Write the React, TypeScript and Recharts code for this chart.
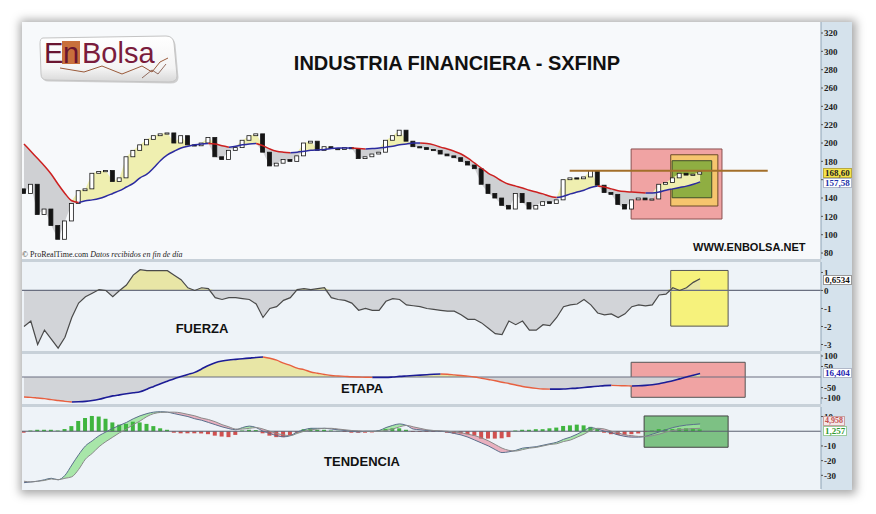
import React from 'react';
import {
    ComposedChart,
    Bar,
    Line,
    Area,
    XAxis,
    YAxis,
    ReferenceArea,
    ReferenceLine,
    Cell,
} from 'recharts';

// weekly closes (open = previous close)
const firstOpen = 150;
const closes = [
    145, 155, 122, 128, 110, 95, 115, 134, 148, 150,
    167, 169, 170, 158, 162, 185, 192, 198, 204, 208,
    210, 211, 200, 208, 198, 197, 200, 206, 185, 182,
    192, 195, 203, 208, 210, 190, 175, 178, 182, 180,
    186, 200, 202, 192, 196, 194, 193, 195, 194, 183,
    185, 188, 190, 203, 208, 214, 202, 196, 195, 193,
    192, 188, 186, 184, 180, 176, 172, 155, 145, 140,
    132, 128, 145, 135, 128, 132, 136, 134, 138, 160,
    162, 161, 163, 170, 154, 146, 144, 133, 128, 138,
    140, 138, 139, 155, 157, 162, 167, 165, 166, 168.6,
];
const movingAvg = [
    199, 191, 183, 175, 166, 155, 145, 137, 135, 137,
    138, 139.5, 142, 145, 148, 152, 156, 162, 166, 173,
    181, 187, 191, 194.5, 196.5, 198, 199, 199.5, 199, 197,
    195.5, 196.5, 198, 199, 199.5, 197, 193.5, 191, 190, 189.5,
    190, 191, 192, 192.5, 193, 194, 194.5, 194.5, 194.5, 194,
    193.5, 194, 194.5, 195.5, 196.5, 198, 199, 200, 200, 199.5,
    198, 195.5, 193.5, 191, 188, 183.5, 178, 172.5, 167, 163,
    158.5, 155, 153, 151, 148.5, 146.5, 144.5, 142, 140.5, 142,
    144.5, 146.5, 148.5, 151.5, 153, 152, 150, 148, 147, 146.5,
    146, 145.5, 145.5, 146.5, 148.5, 150, 151.5, 153, 155, 157.6,
];
const fuerza = [
    -2.0, -1.7, -3.0, -2.2, -2.7, -3.2, -2.6, -1.5, -0.7, -0.35,
    -0.15, 0.05, 0.0, -0.35, 0.0, 0.3, 0.85, 1.15, 1.1, 1.1,
    1.1, 1.1, 0.85, 0.6, 0.15, 0.0, 0.15, 0.1, -0.4, -0.5,
    -0.4, -0.4, -0.45, -0.5, -0.75, -1.5, -1.0, -0.9, -0.55, -0.4,
    0.05, 0.1, 0.05, 0.1, 0.15, -0.4, -0.5, -0.55, -0.7, -1.1,
    -1.0, -1.1, -1.1, -0.6, -0.45, -0.5, -0.8, -0.85, -0.9, -1.0,
    -1.05, -1.1, -1.15, -1.15, -1.35, -1.6, -1.6, -1.8, -2.1, -2.4,
    -2.45, -1.7, -1.9, -1.7, -2.2, -2.2, -1.9, -1.95, -1.5, -0.9,
    -0.8, -0.75, -0.5, -0.8, -1.25, -1.35, -1.3, -1.5, -1.3, -0.9,
    -0.8, -0.85, -0.8, -0.25, -0.2, 0.15, 0.0, 0.15, 0.45, 0.6534,
];
const etapa = [
    -95, -97, -100, -103, -108, -112, -116, -119, -118, -116,
    -112, -106, -98, -90, -85, -80, -75, -70, -58, -45,
    -32, -20, -8, 2, 12, 22, 38, 55, 68, 76,
    81, 84, 87, 90, 93, 95, 89, 80, 66, 55,
    42, 35, 24, 18, 12, 7, 5, 3, 1, 0,
    -1, -2, -2, -2, 0, 3, 5, 7, 9, 11,
    13, 14, 13, 10, 7, 4, 0, -6, -12, -18,
    -25, -31, -38, -45, -50, -54, -57, -58, -58, -57,
    -55, -53, -50, -47, -44, -41, -40, -41, -42, -43,
    -42, -40, -37, -32, -25, -18, -9, 0, 8, 16.4,
];
const macdLine = [
    -35, -34.5, -34, -33, -32, -33, -30, -23, -16, -10,
    -6.5, -3, -0.5, 2, 4, 6, 8.5, 10.5, 12, 13,
    13.3, 13, 12, 11, 10, 8.5, 7.5, 6, 4.5, 3,
    1.8, 1, 2.5, 3.5, 2.5, 0, -1.5, -3, -3.8, -3,
    -0.5, 1, 2, 2, 2, 1.5, 1, 0.5, 0, -0.5,
    0, 0, 0.5, 2.5, 4, 5, 4, 1.5, 1, 0.5,
    0.3, 0, -0.5, -1.5, -2.5, -4, -6, -8, -10, -12.5,
    -14.5, -14, -13, -11.5, -11, -10.5, -9.5, -8.5, -7.5, -5.5,
    -4, -2, 0.5, 2.5, 1.5, 0, -1, -2.5, -3.5, -4,
    -4, -3.5, -2, -0.5, 1, 2.5, 3.5, 4.2, 4.6, 4.958,
];
const signalLine = [
    -34, -34.5, -34, -33.5, -32.5, -33, -32, -31, -26, -19,
    -15, -10.5, -7, -4, -1, 1.5, 4.5, 7, 10, 12,
    12.8, 13, 13, 12.5, 11.5, 10.5, 9, 8, 6.5, 4.5,
    3, 1.5, 1.5, 2, 2.5, 1.5, 0, -1.5, -2.5, -3,
    -1.5, 0, 1, 1.5, 2, 2, 1.5, 1, 0.5, 0.3,
    0, 0, 0, 0.5, 1.5, 3, 4, 3, 2, 1,
    0.5, 0.3, 0, -0.5, -1, -2, -3, -4.5, -6.5, -9,
    -11.5, -13, -13.5, -12.5, -11.5, -11, -10, -9, -8.5, -7,
    -6, -4, -2, 0.5, 2, 1.5, 0, -1, -2.5, -3,
    -3.5, -3.5, -3, -2, -0.5, 0.5, 1.2, 1.5, 1.8, 2,
];
const histogram = [
    -1, 0.5, 1, 1, 1, 0.5, 1.5, 3.5, 7, 9,
    10.4, 10, 8.5, 6, 4.5, 5, 6.5, 6, 5, 3.5,
    2, 1, -1, -1.4, -1.4, -1.4, -1.5, -2, -3, -3.6,
    -4, -2.5, 0.5, 1, 0.8, -1.4, -3, -4, -4, -3,
    -1, 1.4, 2, 1, 1, 0.5, 0.3, -0.5, -1, -1,
    -1, -0.8, 0.5, 1.5, 2, 2, 1, -0.5, -0.5, -0.5,
    -0.5, -0.5, -1, -1.5, -1.5, -2, -3, -5, -5, -5,
    -4.8, -4, 0.5, 1, 1, 1.4, 1.4, 2, 2.5, 3.6,
    4, 4.5, 4, 3, 1.5, -1, -2, -2.5, -2.5, -2,
    -1.5, -0.5, 0.5, 1.5, 1.5, 1.5, 2, 2, 2, 1.257,
];

const priceTicks = [80, 100, 120, 140, 160, 180, 200, 220, 240, 260, 280, 300, 320];
const fuerzaTicks = [1, 0, -1, -2, -3];
const etapaTicks = [100, 50, -50, -100];
const tendenciaTicks = [10, -10, -20, -30];

const xDomain = [-0.29, 116.7];

const rising = (arr: number[], i: number) =>
    (i > 0 && arr[i] >= arr[i - 1]) || (i < arr.length - 1 && arr[i + 1] >= arr[i]);
const falling = (arr: number[], i: number) =>
    (i > 0 && arr[i] < arr[i - 1]) || (i < arr.length - 1 && arr[i + 1] < arr[i]);

const priceData = closes.map((close, i) => {
    const open = i === 0 ? firstOpen : closes[i - 1];
    const ma = movingAvg[i];
    return {
        i,
        open,
        close,
        body: [Math.min(open, close), Math.max(open, close)],
        above: close >= ma ? [ma, close] : [ma, ma],
        below: close < ma ? [close, ma] : [ma, ma],
        maUp: rising(movingAvg, i) ? ma : null,
        maDown: falling(movingAvg, i) ? ma : null,
    };
});

const fuerzaData = fuerza.map((v, i) => ({
    i,
    v,
    pos: [0, Math.max(v, 0)],
    neg: [Math.min(v, 0), 0],
}));

const etapaData = etapa.map((v, i) => ({
    i,
    pos: [0, Math.max(v, 0)],
    neg: [Math.min(v, 0), 0],
    up: rising(etapa, i) ? v : null,
    down: falling(etapa, i) ? v : null,
}));

const tendenciaData = macdLine.map((a, i) => {
    const b = signalLine[i];
    return {
        i,
        a,
        b,
        hist: histogram[i],
        green: a >= b ? [b, a] : [a, a],
        pink: a < b ? [a, b] : [b, b],
    };
});

const Candle = (props: any) => {
    const { x, y, width, height, payload } = props;
    if (x == null || y == null) return null;
    const top = Math.min(y, y + height);
    const h = Math.max(Math.abs(height), 1.2);
    const white = payload.close >= payload.open;
    return (
        <rect x={x} y={top} width={width} height={h} fill={white ? '#ffffff' : '#151515'} stroke="#151515" strokeWidth={0.8} />
    );
};

const W = 830;
const tickStyle = { fontSize: 9, fontFamily: 'Liberation Serif, serif', fontWeight: 700, fill: '#222' };

const yAxisProps = {
    orientation: 'right' as const,
    width: 31,
    tick: tickStyle,
    tickSize: 2,
    tickMargin: 1,
    interval: 0 as const,
    allowDataOverflow: true,
    axisLine: { stroke: '#8fa3b5' },
    tickLine: { stroke: '#555' },
};

const xAxis = <XAxis dataKey="i" type="number" domain={xDomain} allowDataOverflow hide />;

function Logo() {
    return (
        <div style={{ position: 'absolute', left: 38, top: 34, width: 142, height: 50 }}>
            <svg width={142} height={50}>
                <defs>
                    <linearGradient id="plate" x1="0" y1="0" x2="0" y2="1">
                        <stop offset="0" stopColor="#ffffff" />
                        <stop offset="0.7" stopColor="#f4f4f4" />
                        <stop offset="1" stopColor="#d8d8d8" />
                    </linearGradient>
                </defs>
                <path d="M5 4 L128 2 Q135 2 136 9 L139 42 Q139 48 131 48 L9 46 Q3 46 3 40 L2 10 Q2 4 5 4 Z" fill="#cfcfcf" transform="translate(1.5,1.5)" />
                <path d="M5 4 L128 2 Q135 2 136 9 L139 42 Q139 48 131 48 L9 46 Q3 46 3 40 L2 10 Q2 4 5 4 Z" fill="url(#plate)" stroke="#c4c4c4" />
                <rect x={24} y={7} width={18} height={23} fill="#c8703c" />
                <text x={6} y={29} fontFamily="Liberation Sans, Arial, sans-serif" fontSize={29} fill="#6a1530">E</text>
                <text x={25} y={29} fontFamily="Liberation Sans, Arial, sans-serif" fontSize={29} fill="#6a1530">n</text>
                <text x={44} y={29} fontFamily="Liberation Sans, Arial, sans-serif" fontSize={29} fill="#7a1c3c">Bolsa</text>
                <polyline points="22,34 46,38 64,32 84,40 104,32 114,38 122,28 130,24" fill="none" stroke="#9a5a3a" strokeWidth={1} />
                <polyline points="104,44 114,36 120,40 128,30" fill="none" stroke="#7a4a3a" strokeWidth={0.8} />
            </svg>
        </div>
    );
}

const boxLabel = (top: number, text: string, color: string, bg: string, border: string, fs = 9) => (
    <div
        style={{
            position: 'absolute',
            left: 823,
            top,
            height: 8,
            lineHeight: '8px',
            padding: '0 1px',
            fontFamily: 'Liberation Serif, serif',
            fontWeight: 700,
            fontSize: fs,
            color,
            background: bg,
            border: `1px solid ${border}`,
        }}
    >
        {text}
    </div>
);

const centered = (left: number, top: number, text: string, fs: number) => (
    <div
        style={{
            position: 'absolute',
            left,
            top,
            transform: 'translate(-50%, -50%)',
            fontFamily: 'Liberation Sans, Arial, sans-serif',
            fontWeight: 700,
            fontSize: fs,
            lineHeight: 1,
            color: '#111',
            whiteSpace: 'nowrap',
        }}
    >
        {text}
    </div>
);

export default function App() {
    return (
        <div style={{ position: 'absolute', left: 0, top: 0, width: 876, height: 514, background: '#ffffff', overflow: 'hidden' }}>
            {/* frame */}
            <div style={{ position: 'absolute', left: 22, top: 22, width: 830, height: 468, background: '#f7f9fb', boxShadow: '1px 1px 9px 3px rgba(0,0,0,0.35)' }} />
            {/* panel backgrounds */}
            <div style={{ position: 'absolute', left: 22, top: 262, width: 799, height: 89, background: '#eef3f8' }} />
            <div style={{ position: 'absolute', left: 22, top: 354, width: 799, height: 50, background: '#eef3f8' }} />
            <div style={{ position: 'absolute', left: 22, top: 407, width: 799, height: 83, background: '#eef3f8' }} />
            {[259, 351, 404].map(t => (
                <div key={t} style={{ position: 'absolute', left: 22, top: t, width: 799, height: 3, background: '#c8d1d9' }} />
            ))}
            <div style={{ position: 'absolute', left: 821, top: 22, width: 31, height: 468, background: '#d5e2ec' }} />

            {/* price panel */}
            <div style={{ position: 'absolute', left: 22, top: 22 }}>
                <ComposedChart width={W} height={237} data={priceData} margin={{ top: 0, right: 0, bottom: 0, left: 0 }}>
                    {xAxis}
                    <YAxis {...yAxisProps} domain={[73.5, 332]} ticks={priceTicks} />
                    <ReferenceArea x1={88.9} x2={102.2} y1={117.1} y2={193.5} fill="#f0a3a3" fillOpacity={1} stroke="#8a5050" />
                    <ReferenceArea x1={94.7} x2={101.6} y1={131.3} y2={187.2} fill="#f6c56e" fillOpacity={1} stroke="#6b4a2a" />
                    <ReferenceArea x1={94.9} x2={100.7} y1={140.3} y2={180.7} fill="#8fae42" fillOpacity={1} stroke="#3f4f2a" />
                    <Area dataKey="above" type="linear" stroke="none" fill="#efefb0" fillOpacity={1} isAnimationActive={false} />
                    <Area dataKey="below" type="linear" stroke="none" fill="#cfd0d3" fillOpacity={1} isAnimationActive={false} />
                    <ReferenceLine segment={[{ x: 79.9, y: 169.8 }, { x: 108.9, y: 169.8 }]} stroke="#a36f2a" strokeWidth={2} />
                    <Bar dataKey="body" barSize={4} shape={(p: any) => <Candle {...p} />} isAnimationActive={false} />
                    <Line dataKey="maUp" type="monotone" stroke="#2b2ba0" strokeWidth={1.5} dot={false} isAnimationActive={false} />
                    <Line dataKey="maDown" type="monotone" stroke="#cc2020" strokeWidth={1.5} dot={false} isAnimationActive={false} />
                </ComposedChart>
            </div>

            {/* fuerza panel */}
            <div style={{ position: 'absolute', left: 22, top: 262 }}>
                <ComposedChart width={W} height={89} data={fuerzaData} margin={{ top: 0, right: 0, bottom: 0, left: 0 }}>
                    {xAxis}
                    <YAxis {...yAxisProps} domain={[-3.36, 1.58]} ticks={fuerzaTicks} />
                    <ReferenceArea x1={94.7} x2={103.1} y1={-1.98} y2={1.11} fill="#f6f27c" fillOpacity={1} stroke="#555" />
                    <Area dataKey="pos" type="linear" stroke="none" fill="#e8e6a6" fillOpacity={1} isAnimationActive={false} />
                    <Area dataKey="neg" type="linear" stroke="none" fill="#d2d4d8" fillOpacity={1} isAnimationActive={false} />
                    <ReferenceLine y={0} stroke="#6a6f80" strokeWidth={1.2} />
                    <Line dataKey="v" type="linear" stroke="#4a4a4a" strokeWidth={1.2} dot={false} isAnimationActive={false} />
                </ComposedChart>
            </div>

            {/* etapa panel: svg starts 3px higher so the top tick is not cut */}
            <div style={{ position: 'absolute', left: 22, top: 351 }}>
                <ComposedChart width={W} height={53} data={etapaData} margin={{ top: 3, right: 0, bottom: 0, left: 0 }}>
                    {xAxis}
                    <YAxis {...yAxisProps} domain={[-128.6, 109.5]} ticks={etapaTicks} />
                    <ReferenceArea x1={88.9} x2={105.6} y1={-96.7} y2={70} fill="#f0a3a3" fillOpacity={1} stroke="#555" />
                    <Area dataKey="pos" type="linear" stroke="none" fill="#e8e6a6" fillOpacity={1} isAnimationActive={false} />
                    <Area dataKey="neg" type="linear" stroke="none" fill="#d2d4d8" fillOpacity={1} isAnimationActive={false} />
                    <ReferenceLine y={0} stroke="#6a6f80" strokeWidth={1.2} />
                    <Line dataKey="up" type="monotone" stroke="#1c1c96" strokeWidth={1.6} dot={false} isAnimationActive={false} />
                    <Line dataKey="down" type="monotone" stroke="#e86040" strokeWidth={1.4} dot={false} isAnimationActive={false} />
                </ComposedChart>
            </div>

            {/* tendencia panel */}
            <div style={{ position: 'absolute', left: 22, top: 407 }}>
                <ComposedChart width={W} height={82} data={tendenciaData} margin={{ top: 0, right: 0, bottom: 0, left: 0 }}>
                    {xAxis}
                    <YAxis {...yAxisProps} domain={[-39.3, 16.5]} ticks={tendenciaTicks} />
                    <ReferenceArea x1={90.8} x2={103.1} y1={-10.9} y2={10.4} fill="#7dc184" fillOpacity={1} stroke="#444" />
                    <Bar dataKey="hist" barSize={4} isAnimationActive={false}>
                        {tendenciaData.map(d => (
                            <Cell key={d.i} fill={d.hist >= 0 ? '#3fb53f' : '#d05050'} />
                        ))}
                    </Bar>
                    <Area dataKey="green" type="monotone" stroke="none" fill="#9be39b" fillOpacity={0.85} isAnimationActive={false} />
                    <Area dataKey="pink" type="monotone" stroke="none" fill="#e7a3b5" fillOpacity={0.85} isAnimationActive={false} />
                    <ReferenceLine y={0} stroke="#5a6070" strokeWidth={1} />
                    <Line dataKey="a" type="monotone" stroke="#5b6f8c" strokeWidth={1} dot={false} isAnimationActive={false} />
                    <Line dataKey="b" type="monotone" stroke="#8a8a8a" strokeWidth={1} dot={false} isAnimationActive={false} />
                </ComposedChart>
            </div>

            <Logo />
            {centered(457, 63, 'INDUSTRIA FINANCIERA - SXFINP', 20)}
            <div style={{ position: 'absolute', left: 693, top: 241, fontFamily: 'Liberation Sans, Arial, sans-serif', fontWeight: 700, fontSize: 11, color: '#111' }}>
                WWW.ENBOLSA.NET
            </div>
            <div style={{ position: 'absolute', left: 22, top: 250, fontFamily: 'Liberation Serif, serif', fontSize: 8, color: '#222', whiteSpace: 'nowrap' }}>
                © ProRealTime.com <i>Datos recibidos en fin de día</i>
            </div>
            {centered(202, 328, 'FUERZA', 13)}
            {centered(362, 388, 'ETAPA', 13)}
            {centered(362, 461, 'TENDENCIA', 13)}

            {boxLabel(168, '168,60', '#222', '#f5e44a', '#b8a840')}
            {boxLabel(178, '157,58', '#2233aa', '#ffffff', '#b0b8c8')}
            {boxLabel(275, '0,6534', '#111', '#ffffff', '#999')}
            {boxLabel(368, '16,404', '#2424b0', '#ffffff', '#b0b8c8')}
            {boxLabel(416, '4,958', '#c05050', '#f4e8e8', '#c9a0a0', 8)}
            {boxLabel(426, '1,257', '#2f9a2f', '#ffffff', '#9ccc9c')}
        </div>
    );
}
